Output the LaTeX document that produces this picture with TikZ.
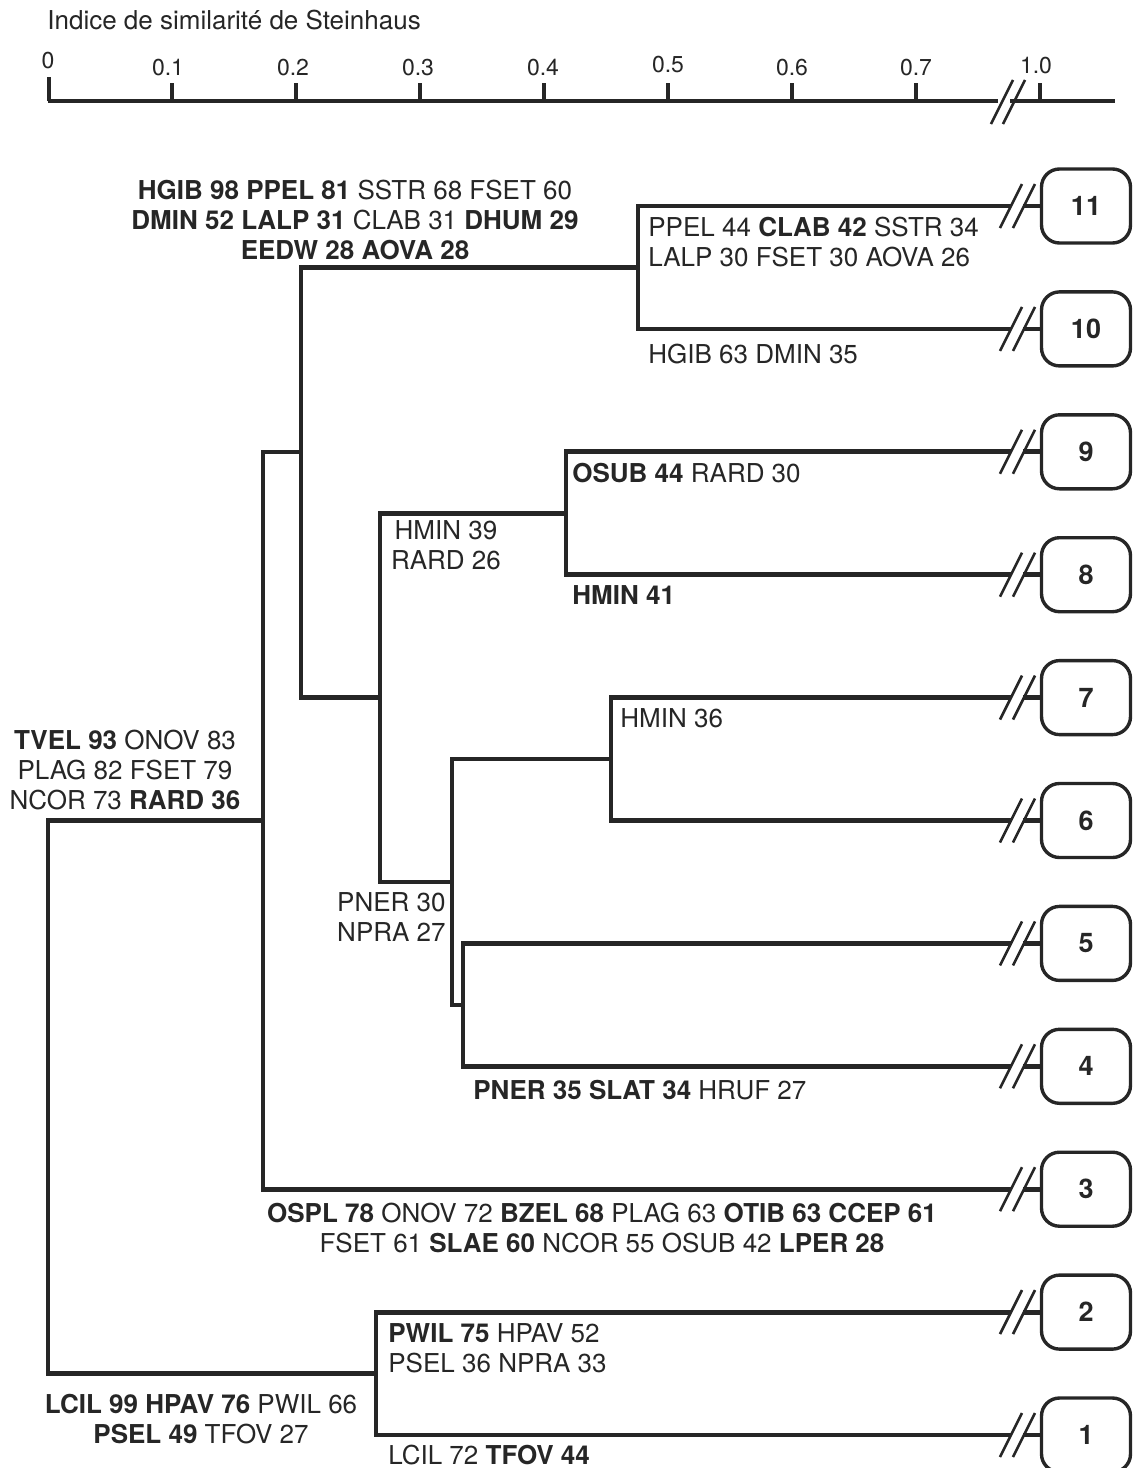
\documentclass[tikz,border=0pt]{standalone}
\usepackage{fontspec}
\setmainfont{TeX Gyre Heros}
\usepackage{tikz}

\begin{document}
\begin{tikzpicture}[x=0.5pt,y=-0.5pt,line cap=butt,line join=miter,
  branch/.style={draw=black!85,line width=2.4pt},
  brk/.style={draw=black!85,line width=1.3pt},
  axisline/.style={draw=black!85,line width=1.9pt},
  leaf/.style={draw=black!85,line width=1.7pt,rounded corners=9pt,minimum width=44.5pt,minimum height=37pt,inner sep=0pt,font=\fontsize{13.5}{15}\selectfont\bfseries,text=black!85},
  lab/.style={inner sep=0pt,font=\fontsize{13}{15}\selectfont,text=black!85},
  ticklab/.style={inner sep=0pt,font=\fontsize{11.5}{13}\selectfont,text=black!85}]
\useasboundingbox (0,0) rectangle (1135,1468);
\node[lab,anchor=base west] (title) at (47,29) {Indice de similarité de Steinhaus};
\draw[axisline] (48,101) -- (998,101);
\draw[axisline] (1010,101) -- (1115,101);
\draw[axisline] (49,101) -- (49,77);
\node[ticklab,anchor=base] (t0) at (48,68) {0};
\draw[axisline] (172,101) -- (172,83);
\node[ticklab,anchor=base] (t1) at (168,75) {0.1};
\draw[axisline] (296,101) -- (296,83);
\node[ticklab,anchor=base] (t2) at (293,75) {0.2};
\draw[axisline] (420,101) -- (420,83);
\node[ticklab,anchor=base] (t3) at (418,75) {0.3};
\draw[axisline] (544,101) -- (544,83);
\node[ticklab,anchor=base] (t4) at (543,75) {0.4};
\draw[axisline] (668,101) -- (668,83);
\node[ticklab,anchor=base] (t5) at (668,72) {0.5};
\draw[axisline] (792,101) -- (792,83);
\node[ticklab,anchor=base] (t6) at (792,75) {0.6};
\draw[axisline] (916,101) -- (916,83);
\node[ticklab,anchor=base] (t7) at (916,75) {0.7};
\draw[axisline] (1040,101) -- (1040,83);
\node[ticklab,anchor=base] (t10) at (1036,73) {1.0};
\draw[brk] (991,124) -- (1013,80) (1003,124) -- (1025,80);

\node[leaf] (b11) at (1086,206) {11};
\node[leaf] (b10) at (1086,328.9) {10};
\node[leaf] (b9) at (1086,451.8) {9};
\node[leaf] (b8) at (1086,574.7) {8};
\node[leaf] (b7) at (1086,697.6) {7};
\node[leaf] (b6) at (1086,820.5) {6};
\node[leaf] (b5) at (1086,943.4) {5};
\node[leaf] (b4) at (1086,1066.3) {4};
\node[leaf] (b3) at (1086,1189.2) {3};
\node[leaf] (b2) at (1086,1312.1) {2};
\node[leaf] (b1) at (1086,1435) {1};

\coordinate (e11) at (1011,206);
\coordinate (e10) at (1011,328.9);
\coordinate (e9) at (1011,451.8);
\coordinate (e8) at (1011,574.7);
\coordinate (e7) at (1011,697.6);
\coordinate (e6) at (1011,820.5);
\coordinate (e5) at (1011,943.4);
\coordinate (e4) at (1011,1066.3);
\coordinate (e3) at (1011,1189.2);
\coordinate (e2) at (1011,1312.1);
\coordinate (e1) at (1011,1435);

\coordinate (n1011) at (638,267.5);
\coordinate (n89) at (566,513.2);
\coordinate (n67) at (611,759);
\coordinate (n45) at (463,1004.9);
\coordinate (n47) at (452,882);
\coordinate (n49) at (380,697.6);
\coordinate (n411) at (301,452);
\coordinate (n311) at (263,820.6);
\coordinate (n12) at (376,1373.5);
\coordinate (root) at (48,1100);

\draw[branch] (e11) -| (n1011) |- (e10);
\draw[branch] (e9) -| (n89) |- (e8);
\draw[branch] (e7) -| (n67) |- (e6);
\draw[branch] (e5) -| (n45) |- (e4);
\draw[branch] (n67) -| (n47) |- (n45);
\draw[branch] (n89) -| (n49) |- (n47);
\draw[branch] (n1011) -| (n411) |- (n49);
\draw[branch] (n411) -| (n311) |- (e3);
\draw[branch] (e2) -| (n12) |- (e1);
\draw[branch] (n311) -| (root) |- (n12);

\draw[brk] (e11) ++(-11,22) -- ++(22,-44) ++(-9,44) -- ++(22,-44);
\draw[branch] (b11.west) -- ++(-17,0);
\draw[brk] (e10) ++(-11,22) -- ++(22,-44) ++(-9,44) -- ++(22,-44);
\draw[branch] (b10.west) -- ++(-17,0);
\draw[brk] (e9) ++(-11,22) -- ++(22,-44) ++(-9,44) -- ++(22,-44);
\draw[branch] (b9.west) -- ++(-17,0);
\draw[brk] (e8) ++(-11,22) -- ++(22,-44) ++(-9,44) -- ++(22,-44);
\draw[branch] (b8.west) -- ++(-17,0);
\draw[brk] (e7) ++(-11,22) -- ++(22,-44) ++(-9,44) -- ++(22,-44);
\draw[branch] (b7.west) -- ++(-17,0);
\draw[brk] (e6) ++(-11,22) -- ++(22,-44) ++(-9,44) -- ++(22,-44);
\draw[branch] (b6.west) -- ++(-17,0);
\draw[brk] (e5) ++(-11,22) -- ++(22,-44) ++(-9,44) -- ++(22,-44);
\draw[branch] (b5.west) -- ++(-17,0);
\draw[brk] (e4) ++(-11,22) -- ++(22,-44) ++(-9,44) -- ++(22,-44);
\draw[branch] (b4.west) -- ++(-17,0);
\draw[brk] (e3) ++(-11,22) -- ++(22,-44) ++(-9,44) -- ++(22,-44);
\draw[branch] (b3.west) -- ++(-17,0);
\draw[brk] (e2) ++(-11,22) -- ++(22,-44) ++(-9,44) -- ++(22,-44);
\draw[branch] (b2.west) -- ++(-17,0);
\draw[brk] (e1) ++(-11,22) -- ++(22,-44) ++(-9,44) -- ++(22,-44);
\draw[branch] (b1.west) -- ++(-17,0);

\node[lab,anchor=north,align=center] (l411) at (355,180) {\textbf{HGIB 98 PPEL 81} SSTR 68 FSET 60\\\textbf{DMIN 52 LALP 31} CLAB 31 \textbf{DHUM 29}\\\textbf{EEDW 28 AOVA 28}};
\node[lab,anchor=north west,align=left] (l11) at (648,217) {PPEL 44 \textbf{CLAB 42} SSTR 34\\LALP 30 FSET 30 AOVA 26};
\node[lab,anchor=north west] (l10) at (648,344) {HGIB 63 DMIN 35};
\node[lab,anchor=north west] (l9) at (572,463) {\textbf{OSUB 44} RARD 30};
\node[lab,anchor=north west] (l8) at (572,585) {\textbf{HMIN 41}};
\node[lab,anchor=north,align=center] (l89) at (446,520) {HMIN 39\\RARD 26};
\node[lab,anchor=north west] (l7) at (620,708) {HMIN 36};
\node[lab,anchor=north,align=center] (l311) at (125,730) {\textbf{TVEL 93} ONOV 83\\PLAG 82 FSET 79\\NCOR 73 \textbf{RARD 36}};
\node[lab,anchor=north east,align=right] (l47) at (446,892) {PNER 30\\NPRA 27};
\node[lab,anchor=north west] (l4) at (473,1080) {\textbf{PNER 35 SLAT 34} HRUF 27};
\node[lab,anchor=north,align=center] (l3) at (602,1203) {\textbf{OSPL 78} ONOV 72 \textbf{BZEL 68} PLAG 63 \textbf{OTIB 63 CCEP 61}\\FSET 61 \textbf{SLAE 60} NCOR 55 OSUB 42 \textbf{LPER 28}};
\node[lab,anchor=north west,align=left] (l2) at (388,1323) {\textbf{PWIL 75} HPAV 52\\PSEL 36 NPRA 33};
\node[lab,anchor=north,align=center] (l12) at (201,1394) {\textbf{LCIL 99 HPAV 76} PWIL 66\\\textbf{PSEL 49} TFOV 27};
\node[lab,anchor=north west] (l1) at (388,1445) {LCIL 72 \textbf{TFOV 44}};
\end{tikzpicture}
\end{document}
